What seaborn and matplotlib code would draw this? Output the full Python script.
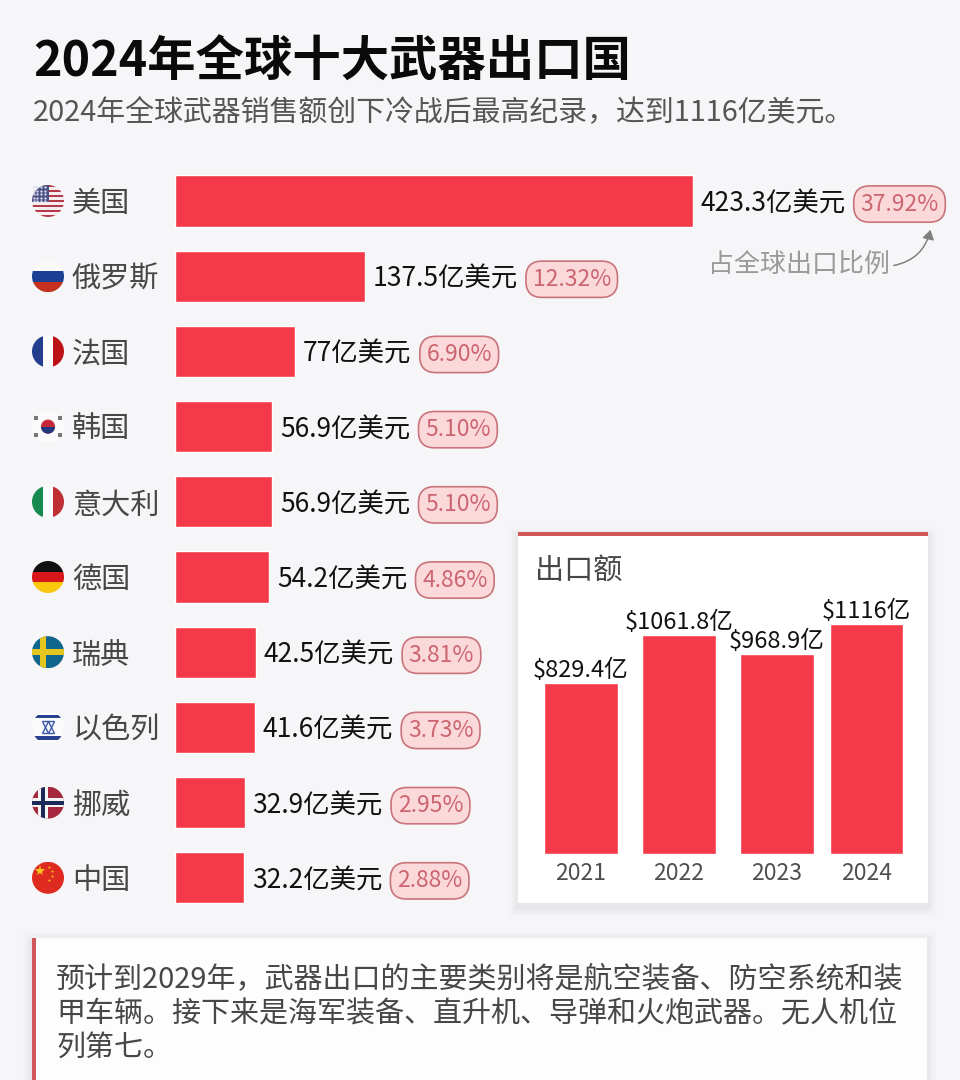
import matplotlib
matplotlib.use("Agg")
import matplotlib.pyplot as plt
from matplotlib.patches import Circle, FancyArrowPatch, Rectangle
import numpy as np
import pandas as pd
import seaborn as sns

sns.set_theme(style="white")
plt.rcParams["font.family"] = ["Noto Sans CJK SC", "DejaVu Sans"]

# ----------------------------------------------------------------
# DATA
# ----------------------------------------------------------------
countries = ["美国", "俄罗斯", "法国", "韩国", "意大利", "德国", "瑞典", "以色列", "挪威", "中国"]
exports = [423.3, 137.5, 77, 56.9, 56.9, 54.2, 42.5, 41.6, 32.9, 32.2]
shares = ["37.92%", "12.32%", "6.90%", "5.10%", "5.10%", "4.86%", "3.81%", "3.73%", "2.95%", "2.88%"]
flag_names = ["us", "ru", "fr", "kr", "it", "de", "se", "il", "no", "cn"]

years = ["2021", "2022", "2023", "2024"]
totals = [829.4, 1061.8, 968.9, 1116]
total_labels = ["$829.4亿", "$1061.8亿", "$968.9亿", "$1116亿"]

title = "2024年全球十大武器出口国"
subtitle = "2024年全球武器销售额创下冷战后最高纪录，达到1116亿美元。"
note_lines = [
    "预计到2029年，武器出口的主要类别将是航空装备、防空系统和装",
    "甲车辆。接下来是海军装备、直升机、导弹和火炮武器。无人机位",
    "列第七。",
]

# the original bars are not zero based: every bar has this extra length
BAR_BASE = 28

BG = "#f6f6f8"
RED = "#f43a49"
DARK = "#474747"
W, H = 960, 1080


def px_axes(left, top, right, bottom, **kw):
    return fig.add_axes([left / W, 1 - bottom / H, (right - left) / W, (bottom - top) / H], **kw)


fig = plt.figure(figsize=(9.6, 10.8), dpi=100, facecolor=BG)

# ----------------------------------------------------------------
# BACKGROUND LAYER (pixel coordinates): texts and cards
# ----------------------------------------------------------------
bg = fig.add_axes([0, 0, 1, 1], zorder=0)
bg.set_xlim(0, W)
bg.set_ylim(H, 0)
bg.axis("off")

bg.text(33, 62, title, fontsize=34.8, fontweight="bold", color="#0a0a0a", va="center")
bg.text(33, 113, subtitle, fontsize=20.8, color="#555555", va="center")

# soft shadow then white card
for grow, alpha in [(9, 0.012), (6, 0.018), (3, 0.025)]:
    bg.add_patch(Rectangle((518 - grow, 532 - grow + 4), 410 + 2 * grow, 371 + 2 * grow,
                           fc="black", ec="none", alpha=alpha))
    bg.add_patch(Rectangle((32 - grow, 938 - grow + 3), 895 + 2 * grow, 160,
                           fc="black", ec="none", alpha=alpha))
bg.add_patch(Rectangle((518, 532), 410, 371, fc="white", ec="none"))
bg.add_patch(Rectangle((518, 532), 410, 4, fc="#d0585a", ec="none"))
bg.add_patch(Rectangle((32, 938), 895, 142, fc="#fdfdfe", ec="none"))
bg.add_patch(Rectangle((32, 938), 4, 142, fc="#d0585a", ec="none"))

bg.text(535, 571, "出口额", fontsize=21, color=DARK, va="center")

for i, line in enumerate(note_lines):
    bg.text(56, 980 + i * 34, line, fontsize=20.9, color=DARK, va="center")

bg.text(708, 264, "占全球出口比例", fontsize=18.7, color="#9a9a9a", va="center")
bg.add_patch(FancyArrowPatch((891, 266), (931, 227), connectionstyle="arc3,rad=0.35",
                             arrowstyle="-|>,head_length=4,head_width=2.5", lw=1.1,
                             color="#808080", mutation_scale=1.4))


# ----------------------------------------------------------------
# FLAGS
# ----------------------------------------------------------------
def draw_flag(name, cx, cy, r=16):
    clip = Circle((cx, cy), r, transform=bg.transData)

    def rect(x0, y0, x1, y1, color):
        p = Rectangle((cx + x0 * r, cy + y0 * r), (x1 - x0) * r, (y1 - y0) * r, fc=color, ec="none")
        bg.add_patch(p)
        p.set_clip_path(clip)

    def hstripes(colors):
        edges = np.linspace(-1, 1, len(colors) + 1)
        for c, a, b in zip(colors, edges[:-1], edges[1:]):
            rect(-1, a, 1, b, c)

    def vstripes(colors):
        edges = np.linspace(-1, 1, len(colors) + 1)
        for c, a, b in zip(colors, edges[:-1], edges[1:]):
            rect(a, -1, b, 1, c)

    if name == "us":
        hstripes(["#b5394a", "#f4eef0"] * 6 + ["#b5394a"])
        rect(-1, -1, 0.05, 0.08, "#4a4f86")
        for yy in np.arange(-0.85, 0.05, 0.22):
            for xx in np.arange(-0.9, 0.05, 0.24):
                bg.plot(cx + xx * r, cy + yy * r, ".", ms=1.4, color="#d8d8e8", zorder=3)
    elif name == "ru":
        hstripes(["#fafafa", "#1c3f94", "#c6311f"])
    elif name == "fr":
        vstripes(["#233d8f", "#fbfbfb", "#bd1118"])
    elif name == "it":
        vstripes(["#178a51", "#fbfbfb", "#bf2f33"])
    elif name == "de":
        hstripes(["#111111", "#d9161a", "#fbc70d"])
    elif name == "se":
        hstripes(["#11668e"])
        rect(-0.5, -1, -0.12, 1, "#e5c51f")
        rect(-1, -0.19, 1, 0.19, "#e5c51f")
    elif name == "no":
        hstripes(["#a6283f"])
        rect(-0.62, -1, -0.02, 1, "#f5f5f5")
        rect(-1, -0.3, 1, 0.3, "#f5f5f5")
        rect(-0.45, -1, -0.19, 1, "#1c2a5a")
        rect(-1, -0.13, 1, 0.13, "#1c2a5a")
    elif name == "il":
        hstripes(["#fbfbfb"])
        rect(-1, -0.78, 1, -0.56, "#27408f")
        rect(-1, 0.56, 1, 0.78, "#27408f")
        for mk in ["^", "v"]:
            bg.plot(cx, cy, mk, ms=8, mfc="none", mec="#3a5aa8", mew=1, zorder=3)
    elif name == "kr":
        hstripes(["#fbfbfb"])
        top = Circle((cx, cy), r * 0.44, fc="#c8283c", ec="none", zorder=3)
        bg.add_patch(top)
        low = Rectangle((cx - r * 0.44, cy), r * 0.88, r * 0.44, fc="#1f3a80", ec="none", zorder=3)
        bg.add_patch(low)
        low.set_clip_path(top)
        for dx, dy, ang in [(-0.72, -0.55, 45), (0.72, -0.55, -45), (-0.72, 0.55, -45), (0.72, 0.55, 45)]:
            bg.plot(cx + dx * r, cy + dy * r, marker=(4, 0, ang), ms=3.6, color="#77777a", mew=0, zorder=3)
    elif name == "cn":
        hstripes(["#df2a20"])
        bg.plot(cx - 0.5 * r, cy - 0.4 * r, "*", ms=8, color="#f6c21c", mew=0, zorder=3)
        for dx, dy in [(0.05, -0.7), (0.25, -0.4), (0.25, -0.1), (0.05, 0.15)]:
            bg.plot(cx + dx * r, cy + dy * r, "*", ms=2.5, color="#f6c21c", mew=0, zorder=3)


row_top, row_step = 201, 75.2
for i, name in enumerate(flag_names):
    draw_flag(name, 48, row_top + i * row_step)

# ----------------------------------------------------------------
# MAIN BARS
# ----------------------------------------------------------------
df = pd.DataFrame({"country": countries, "value": exports})
df["drawn"] = df["value"] + BAR_BASE

ax = px_axes(175, row_top - row_step / 2, 960, row_top + 9.5 * row_step, zorder=1)
ax.patch.set_alpha(0)
sns.barplot(data=df, x="drawn", y="country", color=RED, saturation=1, width=0.68, ax=ax)
ax.set_xlim(0, 785 / 1.147)
ax.set_ylim(9.5, -0.5)
ax.set_xlabel("")
ax.set_ylabel("")
ax.set_xticks([])
sns.despine(ax=ax, left=True, bottom=True)

ax.tick_params(axis="y", length=0, pad=103 * 0.72, labelsize=21, labelcolor=DARK)
for lab in ax.get_yticklabels():
    lab.set_ha("left")

value_labels = ax.bar_label(ax.containers[0], labels=[f"{v:g}亿美元" for v in exports],
                            padding=5.5, fontsize=19, color="#111111")

for lab, share in zip(value_labels, shares):
    lab.xyann = (lab.xyann[0], -2.2)  # sit on the bar centre, CJK metrics lift the text
    ax.annotate(share, xy=(1, 0.5), xycoords=lab, xytext=(15, 0), textcoords="offset pixels",
                ha="left", va="center", fontsize=16.5, color="#cc6570",
                bbox=dict(boxstyle="round,pad=0.29,rounding_size=0.7", fc="#fbd9da", ec="#c9737c", lw=1.2))

# ----------------------------------------------------------------
# INSET BARS
# ----------------------------------------------------------------
inset = px_axes(532, 555, 924, 854, zorder=2)
inset.patch.set_alpha(0)
sns.barplot(x=years, y=totals, color=RED, saturation=1, width=0.745, ax=inset)

# last bar sits a little closer to its neighbour in the original
last_shift = 0.09
last_bar = inset.containers[0][3]
last_bar.set_x(last_bar.get_x() - last_shift)

inset.set_ylim(0, 299 / 0.206)
inset.set_yticks([])
inset.set_xticks([0, 1, 2, 3 - last_shift], years)
inset.tick_params(axis="x", length=0, pad=5.5, labelsize=16.5, labelcolor="#4f4f4f")
inset.set_ylabel("")
sns.despine(ax=inset, left=True, bottom=True)
inset.bar_label(inset.containers[0], labels=total_labels, padding=1, fontsize=17, color="#111111")

fig.savefig("out.png", dpi=100, facecolor=BG)
